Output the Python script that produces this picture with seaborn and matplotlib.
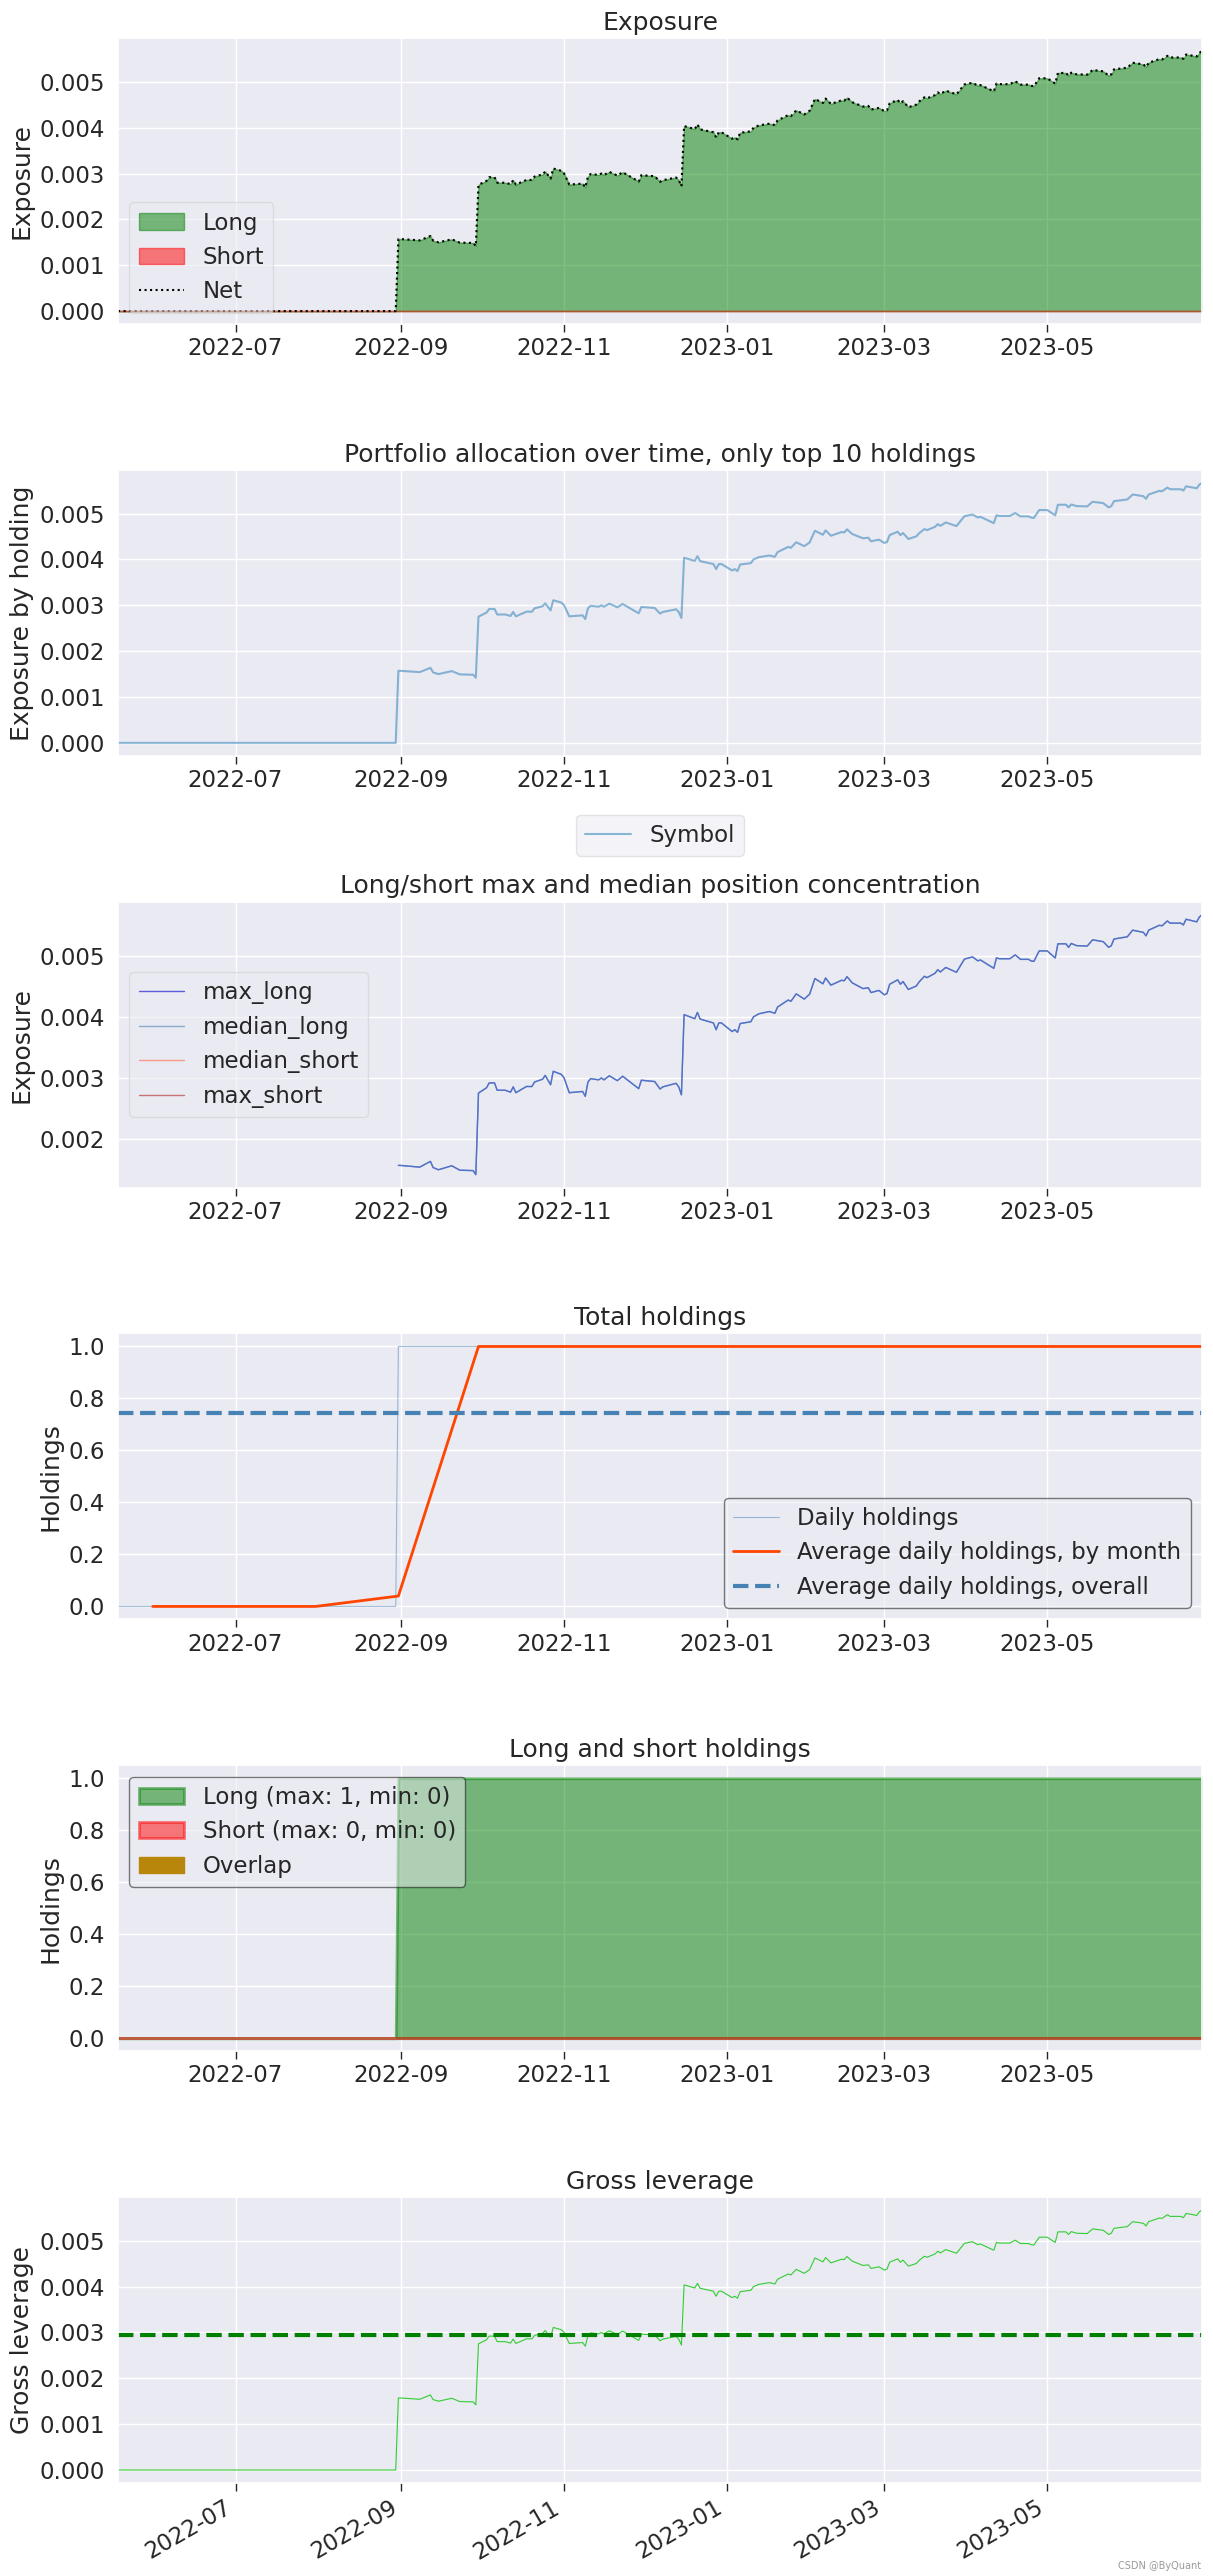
import numpy as np
import pandas as pd
import seaborn as sns
import matplotlib.pyplot as plt
from matplotlib.dates import MonthLocator, DateFormatter
from matplotlib.ticker import MultipleLocator

# exposure of the single position
exp_dates = [
    '2022-05-18', '2022-08-30', '2022-08-31', '2022-09-01', '2022-09-08', '2022-09-12',
    '2022-09-13', '2022-09-15', '2022-09-20', '2022-09-23', '2022-09-28', '2022-09-29',
    '2022-09-30', '2022-10-03', '2022-10-04', '2022-10-06', '2022-10-07', '2022-10-10',
    '2022-10-12', '2022-10-13', '2022-10-14', '2022-10-18', '2022-10-20', '2022-10-21',
    '2022-10-24', '2022-10-25', '2022-10-27', '2022-10-28', '2022-10-31', '2022-11-01',
    '2022-11-03', '2022-11-08', '2022-11-09', '2022-11-10', '2022-11-11', '2022-11-14',
    '2022-11-15', '2022-11-16', '2022-11-18', '2022-11-21', '2022-11-23', '2022-11-29',
    '2022-11-30', '2022-12-05', '2022-12-07', '2022-12-08', '2022-12-13', '2022-12-14',
    '2022-12-15', '2022-12-16', '2022-12-20', '2022-12-21', '2022-12-22', '2022-12-27',
    '2022-12-28', '2022-12-29', '2022-12-30', '2023-01-03', '2023-01-04', '2023-01-05',
    '2023-01-06', '2023-01-10', '2023-01-11', '2023-01-13', '2023-01-17', '2023-01-19',
    '2023-01-20', '2023-01-24', '2023-01-25', '2023-01-27', '2023-01-30', '2023-02-01',
    '2023-02-03', '2023-02-06', '2023-02-07', '2023-02-09', '2023-02-13', '2023-02-14',
    '2023-02-15', '2023-02-17', '2023-02-21', '2023-02-23', '2023-02-24', '2023-02-27',
    '2023-03-01', '2023-03-02', '2023-03-03', '2023-03-06', '2023-03-07', '2023-03-08',
    '2023-03-10', '2023-03-13', '2023-03-14', '2023-03-16', '2023-03-17', '2023-03-20',
    '2023-03-21', '2023-03-22', '2023-03-24', '2023-03-28', '2023-03-31', '2023-04-03',
    '2023-04-05', '2023-04-06', '2023-04-11', '2023-04-12', '2023-04-13', '2023-04-17',
    '2023-04-19', '2023-04-21', '2023-04-24', '2023-04-25', '2023-04-26', '2023-04-28',
    '2023-05-01', '2023-05-04', '2023-05-05', '2023-05-08', '2023-05-09', '2023-05-10',
    '2023-05-12', '2023-05-16', '2023-05-18', '2023-05-22', '2023-05-24', '2023-05-25',
    '2023-05-26', '2023-05-31', '2023-06-02', '2023-06-06', '2023-06-07', '2023-06-08',
    '2023-06-12', '2023-06-13', '2023-06-15', '2023-06-16', '2023-06-20', '2023-06-21',
    '2023-06-22', '2023-06-26', '2023-06-27', '2023-06-28',
]
exp_values = [
    0.0, 0.0, 0.001572, 0.00157, 0.001543, 0.001637,
    0.001536, 0.00150, 0.001565, 0.001493, 0.001486, 0.00142,
    0.002754, 0.00284, 0.00292, 0.00292, 0.00280, 0.00280,
    0.002768, 0.002855, 0.00276, 0.002862, 0.00286, 0.002935,
    0.00298, 0.003043, 0.00289, 0.00311, 0.00306, 0.003007,
    0.00276, 0.00278, 0.00270, 0.002935, 0.00299, 0.00297,
    0.00300, 0.00297, 0.003036, 0.002957, 0.003029, 0.002826,
    0.002964, 0.002942, 0.00282, 0.002855, 0.002913, 0.002855,
    0.002725, 0.004036, 0.00397, 0.004072, 0.003964, 0.00390,
    0.00379, 0.00390, 0.00390, 0.00376, 0.00379, 0.003746,
    0.00389, 0.00392, 0.00400, 0.00405, 0.004087, 0.004058,
    0.00416, 0.004275, 0.004254, 0.004376, 0.00429, 0.00437,
    0.004626, 0.00454, 0.004635, 0.004518, 0.004598, 0.00459,
    0.004657, 0.004555, 0.004462, 0.004475, 0.004397, 0.004432,
    0.00436, 0.004382, 0.004533, 0.004605, 0.004533, 0.004577,
    0.004447, 0.004505, 0.00457, 0.004663, 0.004641, 0.004713,
    0.004771, 0.004734, 0.004808, 0.004728, 0.004944, 0.00498,
    0.004916, 0.00493, 0.004793, 0.004965, 0.00495, 0.00495,
    0.005013, 0.00494, 0.00494, 0.004914, 0.004906, 0.005078,
    0.005078, 0.004963, 0.005194, 0.005194, 0.005136, 0.00520,
    0.005164, 0.005158, 0.005259, 0.005229, 0.005136, 0.005164,
    0.005272, 0.005309, 0.005417, 0.005381, 0.005324, 0.005417,
    0.005497, 0.005488, 0.005568, 0.005532, 0.005532, 0.005503,
    0.005596, 0.005553, 0.005633, 0.00567,
]

# number of holdings
hold_dates = ['2022-05-18', '2022-08-30', '2022-08-31', '2023-06-28']
hold_values = [0, 0, 1, 1]
month_ends = ['2022-05-31', '2022-06-30', '2022-07-31', '2022-08-31', '2022-09-30',
              '2022-10-31', '2022-11-30', '2022-12-31', '2023-01-31', '2023-02-28',
              '2023-03-31', '2023-04-30', '2023-05-31', '2023-06-30']
monthly_holdings = [0, 0, 0, 0.04, 1, 1, 1, 1, 1, 1, 1, 1, 1, 1]
avg_holdings_overall = 0.743
gross_lev_mean = 0.00294
x_range = ('2022-05-18', '2023-06-28')

exp_idx = pd.to_datetime(exp_dates)
exp = np.array(exp_values)
short_exp = np.zeros_like(exp)
long_only = np.where(exp > 0, exp, np.nan)
no_short = np.full_like(exp, np.nan)
hold_idx = pd.to_datetime(hold_dates)
hold = np.array(hold_values)
short_hold = np.zeros_like(hold)
month_idx = pd.to_datetime(month_ends)
xlim = pd.to_datetime(list(x_range))

sns.set_theme(style='darkgrid', context='notebook', font_scale=1.5, color_codes=False)
fig, axes = plt.subplots(6, 1, figsize=(12.13, 25.76), dpi=100)
fig.subplots_adjust(left=0.0973, right=0.991, top=0.9852, bottom=0.0361, hspace=0.51)

# 1 exposure
ax = axes[0]
ax.fill_between(exp_idx, 0, exp, label='Long', color='green', alpha=0.5)
ax.fill_between(exp_idx, 0, short_exp, label='Short', color='red', alpha=0.5)
ax.plot(exp_idx, exp, label='Net', color='black', linestyle='dotted', lw=1.5)
ax.set_title('Exposure')
ax.set_ylabel('Exposure')
ax.legend(loc='lower left', frameon=True, framealpha=0.5)

# 2 top holdings
ax = axes[1]
sns.lineplot(x=exp_idx, y=exp, ax=ax, color='#1f77b4', alpha=0.5, lw=1.5, label='Symbol')
ax.set_title('Portfolio allocation over time, only top 10 holdings')
ax.set_ylabel('Exposure by holding')
ax.legend(loc='upper center', frameon=True, framealpha=0.5,
          bbox_to_anchor=(0.5, -0.165), ncol=5)

# 3 concentration
ax = axes[2]
ax.plot(exp_idx, long_only, color='mediumblue', lw=1, alpha=0.6, label='max_long')
ax.plot(exp_idx, long_only, color='steelblue', lw=1, alpha=0.6, label='median_long')
ax.plot(exp_idx, no_short, color='tomato', lw=1, alpha=0.6, label='median_short')
ax.plot(exp_idx, no_short, color='firebrick', lw=1, alpha=0.6, label='max_short')
ax.set_title('Long/short max and median position concentration')
ax.set_ylabel('Exposure')
ax.legend(loc='center left', frameon=True, framealpha=0.5)

# 4 total holdings
ax = axes[3]
ax.plot(hold_idx, hold, color='steelblue', alpha=0.5, lw=0.8, label='Daily holdings')
sns.lineplot(x=month_idx, y=monthly_holdings, ax=ax, color='orangered', lw=2,
             label='Average daily holdings, by month')
ax.axhline(avg_holdings_overall, color='steelblue', linestyle='--', lw=3,
           label='Average daily holdings, overall')
ax.set_title('Total holdings')
ax.set_ylabel('Holdings')
leg = ax.legend(loc='lower right', frameon=True, framealpha=0.5)
leg.get_frame().set_edgecolor('black')

# 5 long and short holdings
ax = axes[4]
ax.fill_between(hold_idx, 0, hold, color='green', alpha=0.5, lw=2.0)
ax.fill_between(hold_idx, 0, short_hold, color='red', alpha=0.5, lw=2.0)
ax.fill_between([], 0, [], color='darkgoldenrod')
leg = ax.legend(['Long (max: %d, min: %d)' % (hold.max(), hold.min()),
                 'Short (max: %d, min: %d)' % (short_hold.max(), short_hold.min()),
                 'Overlap'], loc='upper left', frameon=True, framealpha=0.5)
leg.get_frame().set_edgecolor('black')
ax.set_title('Long and short holdings')
ax.set_ylabel('Holdings')

# 6 gross leverage
ax = axes[5]
sns.lineplot(x=exp_idx, y=exp, ax=ax, color='limegreen', lw=0.8)
ax.axhline(gross_lev_mean, color='green', linestyle='--', lw=3)
ax.set_title('Gross leverage')
ax.set_ylabel('Gross leverage')

for ax in axes:
    ax.set_xlim(xlim)
    ax.set_xlabel('')
    ax.xaxis.set_major_locator(MonthLocator(bymonth=[1, 3, 5, 7, 9, 11]))
    ax.xaxis.set_major_formatter(DateFormatter('%Y-%m'))
    ax.tick_params(axis='x', bottom=True, length=6, width=1, color='.15')

for i in [0, 1, 2, 5]:
    axes[i].yaxis.set_major_locator(MultipleLocator(0.001))

for lbl in axes[5].get_xticklabels():
    lbl.set_rotation(30)
    lbl.set_ha('right')

fig.text(0.99, 0.002, 'CSDN @ByQuant', ha='right', va='bottom', fontsize=7, color='#999999')

fig.savefig('out.png', dpi=100)
